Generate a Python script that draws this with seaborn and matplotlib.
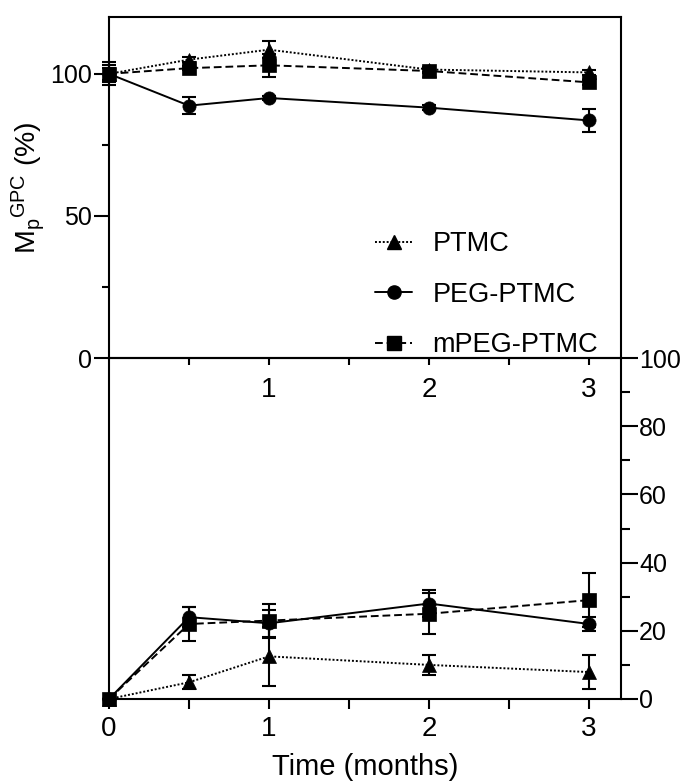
import numpy as np
import pandas as pd
import matplotlib
matplotlib.use('Agg')
import matplotlib.pyplot as plt
import seaborn as sns
from matplotlib.lines import Line2D
from matplotlib.ticker import FixedLocator

months = [0, 0.5, 1, 2, 3]
polymers = ['PTMC', 'PEG-PTMC', 'mPEG-PTMC']

# top: Mp (GPC) relative to start, %
mp_ptmc = [100, 105, 108.5, 101.5, 100.5]
mp_peg = [100, 88.8, 91.5, 88.1, 83.6]
mp_mpeg = [100, 102, 103, 101, 97]
mp_ptmc_err = [3, 0.8, 3, 0.8, 0.8]
mp_peg_err = [4, 3, 0.8, 0.8, 4]
mp_mpeg_err = [2, 0.8, 4, 0.8, 0.8]

# bottom: second measure, %
ml_ptmc = [0, 4.9, 12.5, 10, 7.9]
ml_peg = [0, 24, 22.2, 28, 22]
ml_mpeg = [0, 22, 23, 25, 29]
ml_ptmc_err = [0, 2, 8.6, 3, 5]
ml_peg_err = [0, 3, 4, 4, 2]
ml_mpeg_err = [0, 5, 5, 6, 8]

df_mp = pd.DataFrame({
    'month': months * 3,
    'value': mp_ptmc + mp_peg + mp_mpeg,
    'err': mp_ptmc_err + mp_peg_err + mp_mpeg_err,
    'polymer': np.repeat(polymers, len(months)),
})
df_ml = pd.DataFrame({
    'month': months * 3,
    'value': ml_ptmc + ml_peg + ml_mpeg,
    'err': ml_ptmc_err + ml_peg_err + ml_mpeg_err,
    'polymer': np.repeat(polymers, len(months)),
})

sns.set_style('ticks')
plt.rcParams['font.family'] = ['Liberation Sans', 'DejaVu Sans']
for k in ['text.color', 'axes.labelcolor', 'axes.edgecolor', 'xtick.color', 'ytick.color']:
    plt.rcParams[k] = 'black'
plt.rcParams['axes.linewidth'] = 1.5
for k in ['xtick.major.width', 'ytick.major.width', 'xtick.minor.width', 'ytick.minor.width']:
    plt.rcParams[k] = 1.5

markers = {'PTMC': '^', 'PEG-PTMC': 'o', 'mPEG-PTMC': 's'}
dashes = {'PTMC': (1, 1), 'PEG-PTMC': '', 'mPEG-PTMC': (4, 2)}
lstyles = {'PTMC': (0, (1, 1)), 'PEG-PTMC': '-', 'mPEG-PTMC': (0, (4, 2))}
msize = 9.5

fig = plt.figure(figsize=(6.83, 7.83), dpi=100)
ax1 = fig.add_axes([109 / 683, 1 - 358 / 783, 512 / 683, 341 / 783])
ax2 = fig.add_axes([109 / 683, 1 - 699 / 783, 512 / 683, 341 / 783])
ax2.set_facecolor('none')


def draw(ax, df):
    sns.lineplot(data=df, x='month', y='value', style='polymer',
                 style_order=polymers, markers=markers, dashes=dashes,
                 color='black', markersize=msize, linewidth=1.4,
                 markeredgecolor='black', markeredgewidth=0.5,
                 errorbar=None, legend=False, clip_on=False, zorder=3, ax=ax)
    for p in polymers:
        d = df[df['polymer'] == p]
        ax.errorbar(d['month'], d['value'], yerr=d['err'], fmt='none',
                    ecolor='black', elinewidth=1.5, capsize=5, capthick=1.5,
                    clip_on=False, zorder=2)


draw(ax1, df_mp)
draw(ax2, df_ml)

# top panel
ax1.set_xlim(0, 3.2)
ax1.set_ylim(0, 120)
ax1.yaxis.set_major_locator(FixedLocator([0, 50, 100]))
ax1.yaxis.set_minor_locator(FixedLocator([25, 75]))
ax1.xaxis.set_major_locator(FixedLocator([1, 2, 3]))
ax1.xaxis.set_minor_locator(FixedLocator([0.5, 1.5, 2.5]))
ax1.tick_params(axis='y', which='major', length=11, pad=1, labelsize=18)
ax1.tick_params(axis='y', which='minor', length=5)
ax1.tick_params(axis='x', which='both', length=5, pad=9, labelsize=20)
ax1.set_xlabel('')
ax1.set_ylabel(r'$\mathregular{M_p{}^{GPC}}$ (%)', fontsize=20.5)
ax1.yaxis.set_label_coords(-0.121, 0.5)

# bottom panel
ax2.set_xlim(0, 3.2)
ax2.set_ylim(0, 100)
ax2.yaxis.tick_right()
ax2.yaxis.set_major_locator(FixedLocator([0, 20, 40, 60, 80, 100]))
ax2.yaxis.set_minor_locator(FixedLocator([10, 30, 50, 70, 90]))
ax2.xaxis.set_major_locator(FixedLocator([0, 1, 2, 3]))
ax2.xaxis.set_minor_locator(FixedLocator([0.5, 1.5, 2.5]))
ax2.tick_params(axis='y', which='major', length=12, pad=1, labelsize=18)
ax2.tick_params(axis='y', which='minor', length=6.5)
ax2.tick_params(axis='x', which='both', length=7, pad=5, labelsize=20)
ax2.set_ylabel('')
ax2.set_xlabel('Time (months)', fontsize=21, labelpad=8)

handles = [Line2D([], [], color='black', marker=markers[p], linestyle=lstyles[p],
                  linewidth=1.4, markersize=msize, label=p) for p in polymers]
ax1.legend(handles=handles, loc='lower right', bbox_to_anchor=(0.955, 0.0),
           frameon=False, fontsize=19.5, handlelength=1.35, handletextpad=0.75,
           labelspacing=0.9, borderpad=0, borderaxespad=0)

fig.savefig('out.png', dpi=100)
